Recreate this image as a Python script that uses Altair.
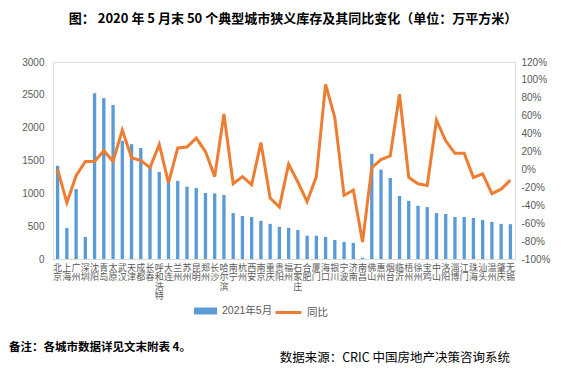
import altair as alt
import pandas as pd

cities = ["北京", "上海", "广州", "深圳", "沈阳", "青岛", "太原", "武汉", "天津", "成都",
          "长春", "呼和浩特", "大连", "兰州", "苏州", "昆明", "郑州", "长沙", "哈尔滨", "南宁",
          "杭州", "西安", "南京", "重庆", "贵阳", "福州", "石家庄", "合肥", "厦门", "海口",
          "银川", "宁波", "济南", "南昌", "佛山", "惠州", "烟台", "临沂", "梧州", "徐州",
          "宝鸡", "中山", "洛阳", "淄博", "江门", "珠海", "汕头", "温州", "肇庆", "无锡"]

inventory = [1420, 470, 1065, 335, 2525, 2450, 2345, 1800, 1750, 1690,
             1430, 1325, 1250, 1190, 1100, 1080, 1005, 1000, 975, 700,
             655, 640, 580, 535, 490, 475, 440, 355, 355, 335,
             290, 260, 245, 20, 1600, 1360, 1235, 960, 885, 810,
             790, 700, 685, 640, 640, 625, 595, 565, 535, 530]

yoy_pct = [0, -37, -7, 9, 9, 21, 9, 44, 13, 10,
           2, 28, -15, 24, 25, 35, 20, -8, 62, -16,
           -8, -17, 30, -32, -42, 6, -14, -36, -8, 95,
           58, -29, -23, -81, 2, 11, 15, 84, -9, -16,
           -18, 55, 32, 18, 18, -9, -5, -27, -22, -12]

bar_label = "2021年5月"
line_label = "同比"
title_text = "图：  2020 年 5 月末 50 个典型城市狭义库存及其同比变化（单位：万平方米）"
note_text = "备注：各城市数据详见文末附表 4。"
source_text = "数据来源：CRIC 中国房地产决策咨询系统"

left_ticks = [0, 500, 1000, 1500, 2000, 2500, 3000]
right_ticks = [-1.0, -0.8, -0.6, -0.4, -0.2, 0.0, 0.2, 0.4, 0.6, 0.8, 1.0, 1.2]

df = pd.DataFrame({
    "city": cities,
    "inv": inventory,
    "yoy": [v / 100 for v in yoy_pct],
    "s1": bar_label,
    "s2": line_label,
})

FONT = "Liberation Sans, Noto Sans CJK SC"
GRAY = "#595959"
BLUE = "#5B9BD5"
ORANGE = "#ED7D31"

x_enc = alt.X("city:N", sort=cities, title=None,
              scale=alt.Scale(paddingInner=0.64, paddingOuter=0.32),
              axis=alt.Axis(labelAngle=0, labelExpr="split(datum.label, '')",
                            labelFontSize=9, labelLineHeight=9.6, labelColor=GRAY,
                            labelFont="Noto Sans CJK SC", labelBaseline="top",
                            labelPadding=4, labelOverlap=False, ticks=False,
                            domainColor="#D9D9D9", labelBound=False))

bars = alt.Chart(df).mark_bar(color=BLUE).encode(
    x=x_enc,
    y=alt.Y("inv:Q", title=None,
            scale=alt.Scale(domain=[0, 3000], nice=False),
            axis=alt.Axis(values=left_ticks, orient="left", grid=False, domain=False,
                          ticks=False, labelPadding=9, labelFontSize=10, format="d",
                          labelColor=GRAY, labelFont=FONT)),
    color=alt.Color("s1:N", title=None,
                    scale=alt.Scale(domain=[bar_label], range=[BLUE]),
                    legend=alt.Legend(orient="none", legendX=141, legendY=237.5,
                                      symbolType="M-1,-0.3H1V0.3H-1Z", symbolSize=529,
                                      labelFontSize=10.5, labelColor=GRAY, labelFont=FONT,
                                      labelOffset=5, padding=0, symbolStrokeWidth=0)),
)

line = alt.Chart(df).mark_line(strokeWidth=3).encode(
    x=alt.X("city:N", sort=cities),
    y=alt.Y("yoy:Q", title=None,
            scale=alt.Scale(domain=[-1.0, 1.2], nice=False, zero=False),
            axis=alt.Axis(values=right_ticks, orient="right", grid=False, domain=False,
                          ticks=False, labelPadding=6, labelFontSize=10,
                          labelColor=GRAY, labelFont=FONT,
                          labelExpr="round(datum.value*100) + '%'")),
    stroke=alt.Stroke("s2:N", title=None,
                      scale=alt.Scale(domain=[line_label], range=[ORANGE]),
                      legend=alt.Legend(orient="none", legendX=221, legendY=236,
                                        symbolType="M-1,0H1", symbolSize=676,
                                        symbolStrokeWidth=3,
                                        labelFontSize=10.5, labelColor=GRAY, labelFont=FONT,
                                        labelOffset=4, padding=0)),
)

note = alt.Chart(pd.DataFrame({"t": [note_text]})).mark_text(
    align="left", baseline="middle", fontSize=11.5, fontWeight="bold",
    font="Noto Sans CJK SC", color="black"
).encode(text="t:N", x=alt.value(-44), y=alt.value(286))

source = alt.Chart(pd.DataFrame({"t": [source_text]})).mark_text(
    align="right", baseline="middle", fontSize=12.5,
    font="Noto Sans CJK SC", color="black"
).encode(text="t:N", x=alt.value(457), y=alt.value(296))

chart = alt.layer(bars, line, note, source).resolve_scale(
    y="independent", color="independent", stroke="independent"
).properties(
    width=462, height=197,
    autosize=alt.AutoSizeParams(type="none"),
    padding={"left": 45, "top": 54, "right": 40, "bottom": 109},
    title=alt.TitleParams(title_text, fontSize=13, fontWeight="bold",
                          font="Noto Sans CJK SC", color="black", limit=600,
                          anchor="middle", frame="group", offset=31, dx=9),
).configure_view(stroke=None).configure(background="white")

chart.save("out.html", embed_options={"renderer": "svg", "actions": False})
